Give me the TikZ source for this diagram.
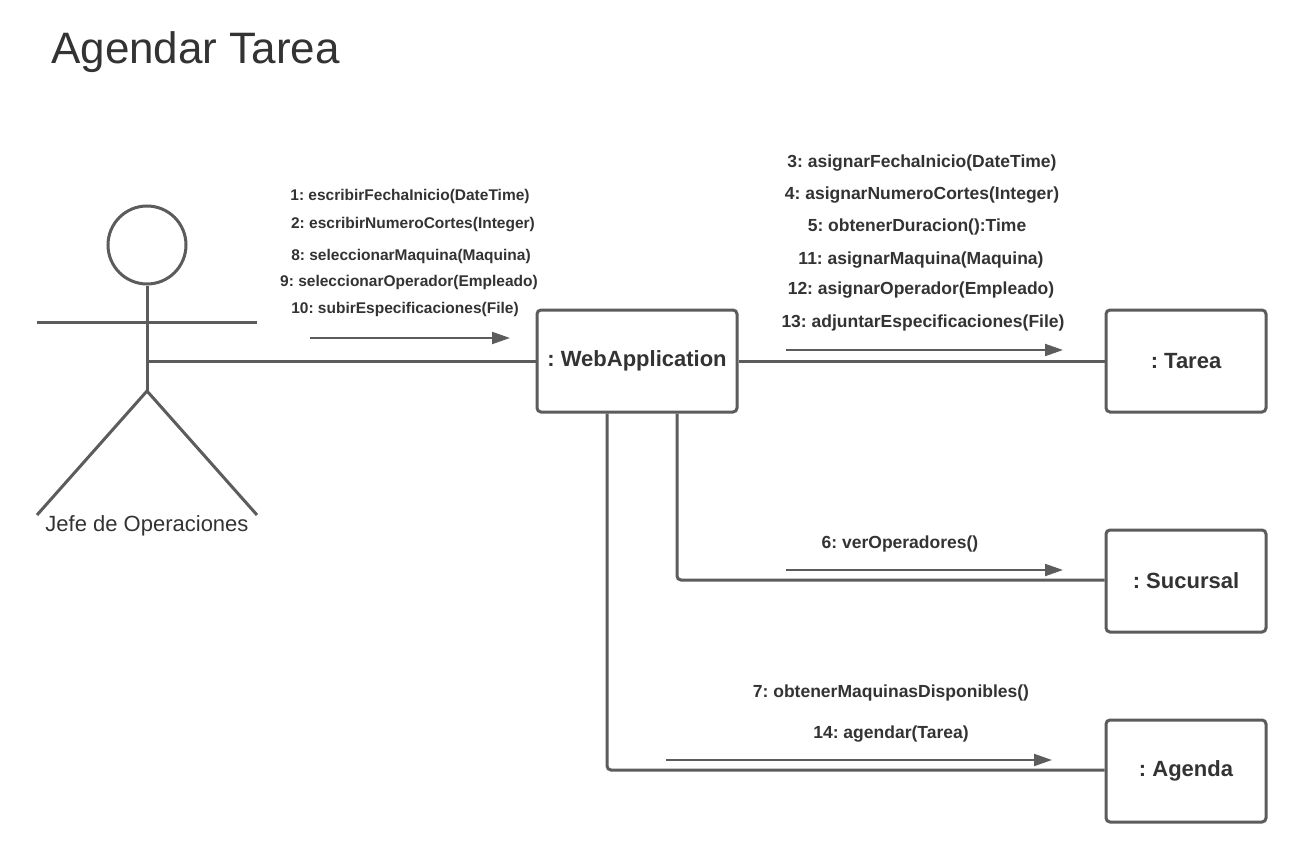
\documentclass[tikz,border=0pt]{standalone}
\usepackage{fontspec}
\setmainfont{Liberation Sans}
\usetikzlibrary{arrows.meta}
\definecolor{ln}{HTML}{5C5C5C}
\definecolor{tx}{HTML}{333333}
\frenchspacing
\begin{document}
\frenchspacing
\begin{tikzpicture}[x=1pt,y=-1pt,
  obj/.style={draw=ln,line width=3pt,rounded corners=4pt,minimum height=102pt,inner sep=0pt,
    text=tx,font=\fontsize{22}{26}\selectfont\bfseries\frenchspacing},
  conn/.style={draw=ln,line width=3pt},
  msg/.style={draw=ln,line width=2pt,-{Triangle[length=18pt,width=12pt]}},
  lbl/.style={text=tx,font=\fontsize{15.5}{18}\selectfont\bfseries\frenchspacing,inner sep=0pt},
  lblr/.style={text=tx,font=\fontsize{17.5}{20}\selectfont\bfseries\frenchspacing,inner sep=0pt},
  limb/.style={draw=ln,line width=3pt}]
\useasboundingbox (0,0) rectangle (1307,853);
\fill[white] (0,0) rectangle (1307,853);
% title
\node[anchor=west,text=tx,font=\fontsize{44}{52}\selectfont,inner sep=0pt] (title) at (51,52) {Agendar Tarea};
% actor
\node[draw=ln,line width=3pt,circle,minimum size=78pt,inner sep=0pt] (head) at (147,245) {};
\coordinate (hip) at (147,391);
\coordinate (lhand) at (37,322);
\coordinate (rhand) at (257,322);
\coordinate (lfoot) at (37,515);
\coordinate (rfoot) at (257,515);
\coordinate (actor) at (147,361);
\draw[limb] (head.south) -- (hip);
\draw[limb] (lhand) -- (rhand);
\draw[limb] (lfoot) -- (hip) -- (rfoot);
\node[text=tx,font=\fontsize{22}{26}\selectfont,inner sep=0pt] (actorlbl) at (147,526) {Jefe de Operaciones};
% objects
\node[obj,minimum width=200pt] (web) at (637,361) {: WebApplication};
\node[obj,minimum width=160pt] (tarea) at (1186,361) {: Tarea};
\node[obj,minimum width=160pt] (suc) at (1186,581) {: Sucursal};
\node[obj,minimum width=160pt] (agenda) at (1186,771) {: Agenda};
% connectors
\draw[conn] (actor) -- (web.west);
\draw[conn] (web.east) -- (tarea.west);
\draw[conn,rounded corners=4pt] (web.south -| 677,0) -- (677,580) -- (suc.west |- 0,580);
\draw[conn,rounded corners=4pt] (web.south -| 607,0) -- (607,770) -- (agenda.west |- 0,770);
% messages
\coordinate (m1s) at (310,338); \coordinate (m1e) at (510,338);
\coordinate (m2s) at (786,350); \coordinate (m2e) at (1063,350);
\coordinate (m3s) at (786,570); \coordinate (m3e) at (1063,570);
\coordinate (m4s) at (666,760); \coordinate (m4e) at (1052,760);
\draw[msg] (m1s) -- (m1e);
\draw[msg] (m2s) -- (m2e);
\draw[msg] (m3s) -- (m3e);
\draw[msg] (m4s) -- (m4e);
% labels left
\node[lbl] (l1) at (410,196) {1: escribirFechaInicio(DateTime)};
\node[lbl] (l2) at (413,225) {2: escribirNumeroCortes(Integer)};
\node[lbl] (l8) at (411,256) {8: seleccionarMaquina(Maquina)};
\node[lbl] (l9) at (409,282) {9: seleccionarOperador(Empleado)};
\node[lbl] (l10) at (405,309) {10: subirEspecificaciones(File)};
% labels right
\node[lblr] (l3) at (922,163) {3: asignarFechaInicio(DateTime)};
\node[lblr] (l4) at (922,195) {4: asignarNumeroCortes(Integer)};
\node[lblr] (l5) at (917,227) {5: obtenerDuracion():Time};
\node[lblr] (l11) at (921,260) {11: asignarMaquina(Maquina)};
\node[lblr] (l12) at (921,290) {12: asignarOperador(Empleado)};
\node[lblr] (l13) at (923,323) {13: adjuntarEspecificaciones(File)};
\node[lblr] (l6) at (900,544) {6: verOperadores()};
\node[lblr] (l7) at (891,693) {7: obtenerMaquinasDisponibles()};
\node[lblr] (l14) at (891,734) {14: agendar(Tarea)};
\end{tikzpicture}
\end{document}
